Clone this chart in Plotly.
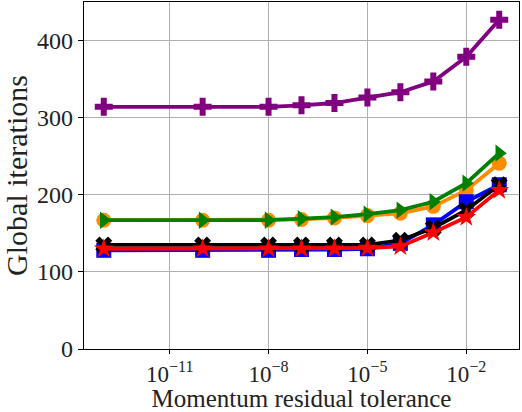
import plotly.graph_objects as go

tol = [1e-13, 1e-10, 1e-8, 1e-7, 1e-6, 1e-5, 1e-4, 1e-3, 1e-2, 1e-1]

purple = [314, 314, 314, 316, 319, 326, 333, 347, 379, 427]
orange = [167, 167, 167, 168, 170, 173, 176, 185, 206, 241]
green = [167, 167, 167, 169, 171, 175, 180, 191, 215, 254]
blue = [128, 128, 128, 129, 129, 130, 137, 161, 191, 213]
black = [135, 135, 135, 135, 135, 135, 141, 157, 180, 213]
red = [130, 130, 130, 130, 130, 131, 133, 151, 171, 206]

series = [
    ("orange", orange, "circle", "darkorange"),
    ("green", green, "triangle-right", "green"),
    ("blue", blue, "square", "blue"),
    ("black", black, "x", "black"),
    ("red", red, "star", "red"),
    ("purple", purple, "cross", "purple"),
]

xtick_vals = [1e-11, 1e-8, 1e-5, 1e-2]
xtick_text = ["10<sup>\u221211</sup>", "10<sup>\u22128</sup>", "10<sup>\u22125</sup>", "10<sup>\u22122</sup>"]
ytick_vals = [0, 100, 200, 300, 400]

fig = go.Figure()
for name, ys, sym, col in series:
    fig.add_trace(go.Scatter(
        x=tol, y=ys, mode="lines+markers", name=name,
        line=dict(color=col, width=3.8),
        marker=dict(symbol=sym, size=15, color=col, line=dict(width=0)),
        showlegend=False,
    ))

font_family = "Liberation Serif, DejaVu Serif, serif"
fig.update_layout(
    width=522, height=412,
    margin=dict(l=84, r=3, t=2, b=63),
    plot_bgcolor="white", paper_bgcolor="white",
    font=dict(family=font_family, size=24, color="#222"),
)
fig.update_xaxes(
    type="log", range=[-13.6, -0.4],
    tickvals=xtick_vals, ticktext=xtick_text,
    showgrid=True, gridcolor="#b0b0b0", gridwidth=1,
    showline=True, linecolor="black", linewidth=1.2, mirror=True,
    ticks="outside", ticklen=4, tickcolor="black",
    tickfont=dict(size=23),
    title=dict(text="Momentum residual tolerance", font=dict(size=25), standoff=0),
    zeroline=False,
)
fig.update_yaxes(
    range=[0, 450],
    tickvals=ytick_vals,
    showgrid=True, gridcolor="#b0b0b0", gridwidth=1,
    showline=True, linecolor="black", linewidth=1.2, mirror=True,
    ticks="outside", ticklen=5, tickcolor="black",
    tickfont=dict(size=24),
    title=dict(text="Global iterations", font=dict(size=30), standoff=0),
    zeroline=False,
)

fig.write_html("out.html")
